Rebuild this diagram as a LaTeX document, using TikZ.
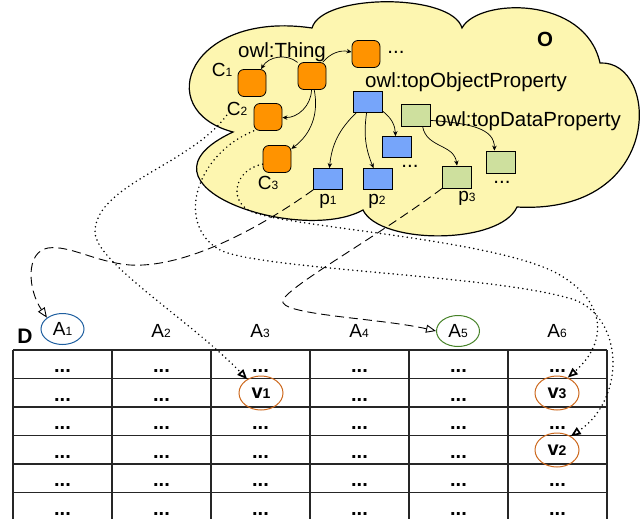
\documentclass[tikz,border=0pt]{standalone}
\usepackage{fontspec}
\setmainfont{Liberation Sans}
\usetikzlibrary{arrows.meta,shapes.geometric}

\definecolor{cloudfill}{RGB}{253,246,176}
\definecolor{clsorange}{RGB}{255,147,0}
\definecolor{objblue}{RGB}{118,165,250}
\definecolor{datgreen}{RGB}{206,224,158}
\definecolor{aoneblue}{RGB}{31,95,160}
\definecolor{afivegreen}{RGB}{70,130,40}
\definecolor{valorange}{RGB}{205,105,30}

\newcommand{\sublbl}[2]{#1{\fontsize{12}{12}\selectfont #2}}
\newcommand{\vallbl}[1]{v{\fontsize{14}{14}\selectfont #1}}

\tikzset{
  cls/.style={draw, fill=clsorange, rounded corners=6pt, minimum width=28pt, minimum height=27pt, inner sep=0pt, line width=0.8pt},
  oprop/.style={draw, fill=objblue, minimum width=29pt, minimum height=21pt, inner sep=0pt, line width=0.8pt},
  dprop/.style={draw, fill=datgreen, minimum width=29pt, minimum height=22pt, inner sep=0pt, line width=0.8pt},
  big/.style={font=\fontsize{20.5}{24}\selectfont, inner sep=0pt},
  lbl/.style={font=\fontsize{19}{20}\selectfont, inner sep=0pt},
  attr/.style={ellipse, draw, minimum width=43pt, minimum height=31pt, inner sep=0pt, line width=1pt, font=\fontsize{19}{20}\selectfont},
  val/.style={ellipse, draw=valorange, minimum width=44pt, minimum height=34pt, inner sep=0pt, line width=1pt, font=\fontsize{20}{20}\selectfont\bfseries},
  celldots/.style={font=\fontsize{20}{20}\selectfont\bfseries, inner sep=0pt},
  tbl/.style={line width=1.2pt, draw=black!85},
  arr/.style={-{Stealth[length=5pt,width=4.5pt]}, line width=0.7pt},
  mapdash/.style={-{Triangle[open,length=10pt,width=8pt]}, dash pattern=on 9pt off 5pt, line width=0.9pt},
  mapdot/.style={-{Triangle[open,length=10pt,width=8pt]}, line cap=round, dash pattern=on 0pt off 4.5pt, line width=1.7pt},
}

\begin{document}
\begin{tikzpicture}[x=1pt,y=-1pt]
\useasboundingbox (0,0) rectangle (642,519);

% ontology O
\draw[fill=cloudfill, line width=1.2pt] (312,28) .. controls (322,-7) and (452,-7) .. (462,28)
  .. controls (478,-2) and (585,-5) .. (600,63)
  .. controls (660,60) and (665,215) .. (517,207)
  .. controls (500,245) and (380,245) .. (363,210)
  .. controls (300,245) and (120,185) .. (233,132)
  .. controls (150,110) and (190,10) .. cycle;
\node[big, anchor=base] (lo) at (545,46.7) {\textbf{O}};

% classes
\node[cls] (thing) at (312,76) {};
\node[cls] (cone) at (252,83) {};
\node[cls] (ctwo) at (268,117) {};
\node[cls] (cthree) at (277,159) {};
\node[cls] (cmore) at (366,54) {};
\node[big, anchor=base] (lthing) at (282,58) {owl:Thing};
\node[lbl, anchor=base] (lcone) at (222,77) {\sublbl{C}{1}};
\node[lbl, anchor=base] (lctwo) at (237,115) {\sublbl{C}{2}};
\node[lbl, anchor=base] (lcthree) at (268,189) {\sublbl{C}{3}};
\node[big, anchor=base] (lcmore) at (396,53) {...};

% object properties
\node[oprop] (otop) at (368,102) {};
\node[oprop] (pone) at (328,179) {};
\node[oprop] (ptwo) at (378,179) {};
\node[oprop] (pmid) at (397,147) {};
\node[big, anchor=base] (lotop) at (466,88) {owl:topObjectProperty};
\node[lbl, anchor=base] (lpone) at (328,204) {\sublbl{p}{1}};
\node[lbl, anchor=base] (lptwo) at (377,204) {\sublbl{p}{2}};
\node[big, anchor=base] (lpmid) at (410,167) {...};

% data properties
\node[dprop] (dtop) at (416,115) {};
\node[dprop] (pthree) at (457,177) {};
\node[dprop] (dright) at (501,162) {};
\node[big, anchor=base] (ldtop) at (528,126) {owl:topDataProperty};
\node[lbl, anchor=base] (lpthree) at (467,201) {\sublbl{p}{3}};
\node[big, anchor=base] (ldright) at (502,183) {...};

\path[arr] (thing) edge [bend right=50] (cone);
\path[arr] (thing) edge [bend left=30] (cmore);
\path[arr] (thing) edge [bend left=45] (ctwo);
\path[arr] (thing) edge [bend left=32] (cthree);
\path[arr] (otop) edge [bend right=20] (pone);
\path[arr] (otop) edge [bend right=15] (ptwo);
\path[arr] (otop) edge [bend left=25] (pmid);
\draw[arr] (dtop.-60) .. controls +(4,22) and +(-3,-22) .. (pthree.north);
\draw[arr] (dtop.-20) .. controls +(40,3) and +(0,-22) .. (dright.120);

% dataset D
\node[font=\fontsize{21}{21}\selectfont\bfseries, anchor=base, inner sep=0pt] (ld) at (25,343) {D};
\node[attr, draw=aoneblue] (aone) at (62.5,329) {\sublbl{A}{1}};
\node[lbl, anchor=base] (atwo) at (161,337) {\sublbl{A}{2}};
\node[lbl, anchor=base] (athree) at (260,337) {\sublbl{A}{3}};
\node[lbl, anchor=base] (afour) at (359,337) {\sublbl{A}{4}};
\node[attr, draw=afivegreen] (afive) at (458,331) {\sublbl{A}{5}};
\node[lbl, anchor=base] (asix) at (557,337) {\sublbl{A}{6}};

\foreach \y in {350,378.5,407,435.5,464,492.5}
  \draw[tbl] (13,\y) -- (607,\y);
\foreach \x in {13,112,211,310,409,508,607}
  \draw[tbl] (\x,350) -- (\x,519);
\foreach \c in {0,...,5}{
  \foreach \r in {0,...,5}{
    \pgfmathtruncatemacro{\hasval}{(\c==2 && \r==1) || (\c==5 && \r==1) || (\c==5 && \r==3)}
    \ifnum\hasval=0
      \node[celldots, anchor=base] (cell\c\r) at ({62.5+99*\c},{372.5+28.5*\r}) {...};
    \fi
  }
}
\node[val] (vone) at (261,393) {\vallbl{1}};
\node[val] (vthree) at (557,393) {\vallbl{3}};
\node[val] (vtwo) at (557,450) {\vallbl{2}};

% mappings
\draw[mapdash] (pone.south west) .. controls (250,235) and (180,268) .. (130,265)
  .. controls (95,262) and (70,245) .. (48,248)
  .. controls (25,252) and (28,290) .. (aone.north west);
\draw[mapdash] (pthree.south west) .. controls (380,235) and (290,285) .. (283,300)
  .. controls (276,315) and (380,318) .. (afive.west);
\draw[mapdot] (lctwo.south west) .. controls (190,165) and (95,185) .. (95,232)
  .. controls (95,262) and (190,320) .. (vone.135);
\draw[mapdot] (ctwo.south west) .. controls (195,155) and (175,225) .. (220,250)
  .. controls (260,270) and (500,275) .. (575,300)
  .. controls (625,320) and (625,400) .. (vtwo.45);
\draw[mapdot] (cthree.200) .. controls (232,170) and (228,205) .. (255,213)
  .. controls (300,228) and (500,240) .. (560,275)
  .. controls (610,305) and (605,345) .. (vthree.55);
\end{tikzpicture}
\end{document}
